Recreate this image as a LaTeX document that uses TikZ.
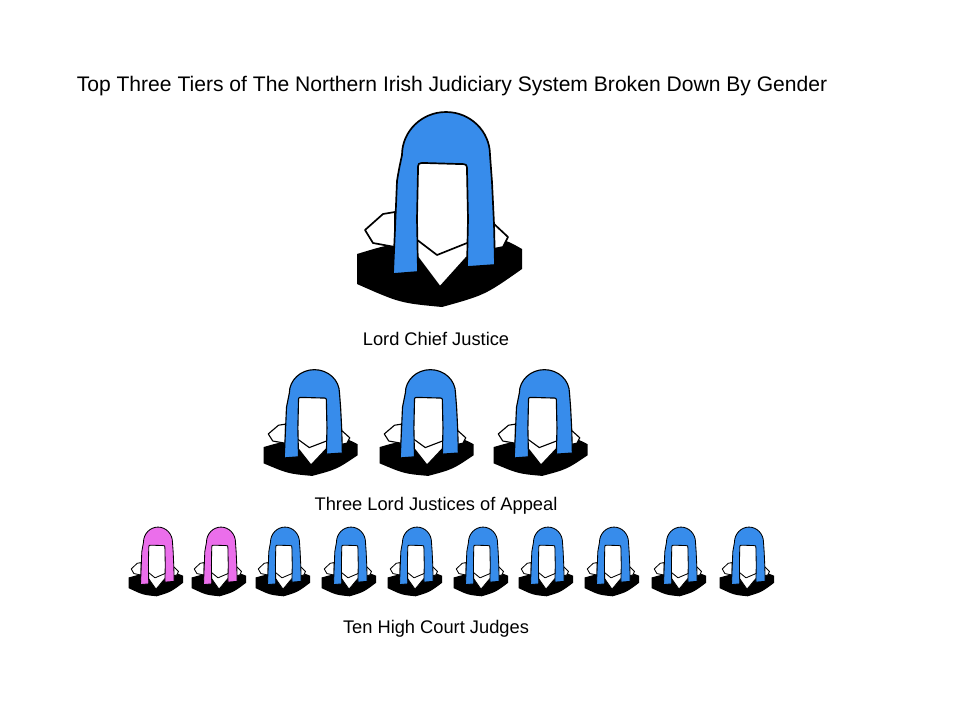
\documentclass[tikz,border=0pt]{standalone}
\usepackage{fontspec}
\setmainfont{Liberation Sans}

\definecolor{wigblue}{RGB}{55,140,235}
\definecolor{wigpink}{RGB}{235,110,235}

\tikzset{
  pics/judge/.style={code={
    % ガウン
    \fill[black] (-83,145) .. controls (-60,138) .. (-40,134) -- (50,128) .. controls (68,132) .. (82,140) -- (82,160) .. controls (45,186) .. (2,198) .. controls (-40,194) .. (-83,175) -- cycle;
    % 襟
    \filldraw[fill=white] (-75,121) -- (-57,105) -- (-45,103) -- (-45,138) -- (-67,134) -- cycle;
    \filldraw[fill=white] (53,114) -- (68,128) -- (63,138) -- (53,140) -- cycle;
    % シャツ
    \fill[white] (-24,126) -- (-24,146) -- (0,178) -- (27,148) -- (27,126) -- cycle;
    \draw (-24,146) -- (0,178) -- (27,148);
    \draw (-24,130) -- (-3,146) -- (27,134);
    % かつら
    \filldraw[fill=#1] (-47,165) -- (-45,120) -- (-43,72) .. controls (-41,60) .. (-38,46) arc[start angle=180, end angle=360, x radius=44, y radius=43] .. controls (51,60) .. (52,73) -- (54,115) -- (55,156) -- (27,158) -- (28,110) -- (27,62) .. controls (27,55) .. (19,55) -- (-15,54) .. controls (-22,54) .. (-22,61) -- (-23,110) -- (-22,163) -- cycle;
  }},
  label/.style={font=\fontsize{13}{15}\selectfont}
}

\begin{document}
\begin{tikzpicture}[x=0.25mm, y=-0.25mm, line join=round]
    \useasboundingbox (0,0) rectangle (960,720);

    % タイトル
    \node[label, font=\fontsize{15}{18}\selectfont] (title) at (452,86) {Top Three Tiers of The Northern Irish Judiciary System Broken Down By Gender};

    % 一段目
    \pic[line width=1.2pt] (lcj) at (440,109) {judge=wigblue};
    \node[label] (lcjtext) at (436,339) {Lord Chief Justice};

    % 二段目
    \pic[xscale=0.57, yscale=0.545, line width=0.8pt] (lja1) at (311,368) {judge=wigblue};
    \pic[xscale=0.57, yscale=0.545, line width=0.8pt] (lja2) at (427,368) {judge=wigblue};
    \pic[xscale=0.57, yscale=0.545, line width=0.8pt] (lja3) at (541,368) {judge=wigblue};
    \node[label] (ljatext) at (436,506) {Three Lord Justices of Appeal};

    % 三段目
    \pic[xscale=0.33, yscale=0.355, line width=0.6pt] (hcj1) at (156,526) {judge=wigpink};
    \pic[xscale=0.33, yscale=0.355, line width=0.6pt] (hcj2) at (219,526) {judge=wigpink};
    \pic[xscale=0.33, yscale=0.355, line width=0.6pt] (hcj3) at (283,526) {judge=wigblue};
    \pic[xscale=0.33, yscale=0.355, line width=0.6pt] (hcj4) at (349,526) {judge=wigblue};
    \pic[xscale=0.33, yscale=0.355, line width=0.6pt] (hcj5) at (415,526) {judge=wigblue};
    \pic[xscale=0.33, yscale=0.355, line width=0.6pt] (hcj6) at (481,526) {judge=wigblue};
    \pic[xscale=0.33, yscale=0.355, line width=0.6pt] (hcj7) at (546,526) {judge=wigblue};
    \pic[xscale=0.33, yscale=0.355, line width=0.6pt] (hcj8) at (612,526) {judge=wigblue};
    \pic[xscale=0.33, yscale=0.355, line width=0.6pt] (hcj9) at (679,526) {judge=wigblue};
    \pic[xscale=0.33, yscale=0.355, line width=0.6pt] (hcj10) at (747,526) {judge=wigblue};
    \node[label] (hcjtext) at (436,629) {Ten High Court Judges};
\end{tikzpicture}
\end{document}
